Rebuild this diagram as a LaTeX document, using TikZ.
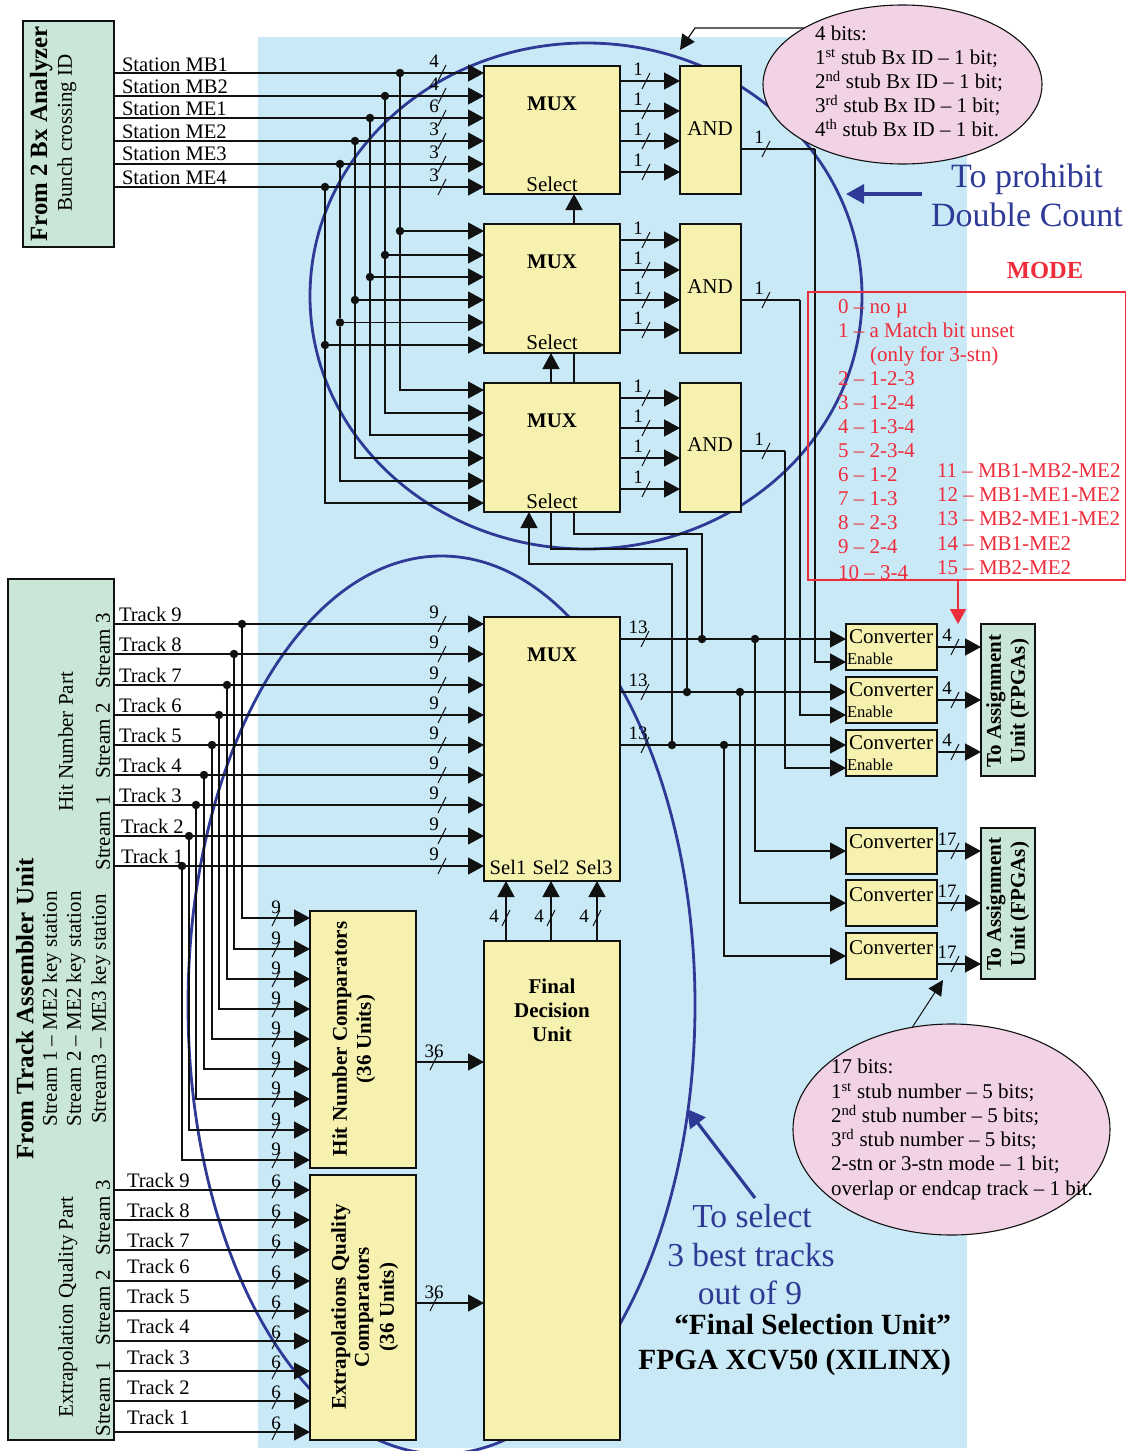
\documentclass[tikz,border=0pt]{standalone}
\usepackage{fontspec}
\setmainfont{Liberation Serif}
\usetikzlibrary{arrows.meta,shapes.geometric,calc}
\definecolor{bgblue}{HTML}{C8E9F5}
\definecolor{boxyel}{HTML}{F6F1AE}
\definecolor{boxgrn}{HTML}{C9E6D6}
\definecolor{boxpnk}{HTML}{F2D3E5}
\definecolor{ringblue}{HTML}{2E3A96}
\definecolor{modered}{HTML}{EE2C3C}
\definecolor{ink}{HTML}{111111}
\newcounter{nn}
\newcommand{\tx}[4][]{\stepcounter{nn}\node[#1] (t\thenn) at (#2,{#3+1}) {#4};}
\newcommand{\bx}[6]{\pgfmathsetmacro{\cxx}{(#2+#4)/2}\pgfmathsetmacro{\cyy}{(#3+#5)/2}\pgfmathsetmacro{\www}{#4-#2}\pgfmathsetmacro{\hhh}{#5-#3}\node[#6,minimum width=\www pt,minimum height=\hhh pt] (#1) at (\cxx,\cyy) {};}
\newcommand{\sh}[2]{\draw[slashmark] ({#1-4},{#2+8}) -- ({#1+4},{#2-8});}
\tikzset{
  tf/.style={font=\fontsize{#1pt}{#1pt}\selectfont,text height=.66*#1pt,text depth=0pt,inner sep=0pt,outer sep=0pt},
  bf/.style={font=\fontsize{#1pt}{#1pt}\selectfont\bfseries,text height=.66*#1pt,text depth=0pt,inner sep=0pt,outer sep=0pt},
  lab/.style={tf=19,yshift=1.5pt},
  ybox/.style={rectangle,draw=ink,fill=boxyel,line width=1.3pt,inner sep=0pt,outer sep=0pt},
  gbox/.style={rectangle,draw=ink,fill=boxgrn,line width=1.3pt,inner sep=0pt,outer sep=0pt},
  pk/.style={ellipse,draw=ink,fill=boxpnk,line width=1.1pt,inner sep=0pt,outer sep=0pt},
  ring/.style={ellipse,draw=ringblue,line width=2.8pt,inner sep=0pt,outer sep=0pt},
  dot/.style={circle,fill=ink,inner sep=0pt,outer sep=0pt,minimum size=8.5pt},
  wire/.style={draw=ink,line width=1.4pt},
  sig/.style={wire,-{Triangle[length=16pt,width=17pt]}},
  slashmark/.style={draw=ink,line width=1pt},
  thinarrow/.style={draw=ink,line width=1.2pt,-{Triangle[length=15pt,width=15pt]}},
  bluearrow/.style={draw=ringblue,line width=3.2pt,-{Triangle[length=18pt,width=19pt]}},
  redarrow/.style={draw=modered,line width=1.3pt,-{Triangle[length=15pt,width=16pt]}},
  bluetext/.style={tf=#1,text=ringblue,yshift=1.5pt},
}
\begin{document}
\begin{tikzpicture}[x=1pt,y=-1pt]
\useasboundingbox (0,0) rectangle (1128,1451);
\fill[white] (0,0) rectangle (1128,1451);
\fill[bgblue] (258,37) rectangle (967,1448);
% rings
\bx{ringa}{310}{43}{862}{549}{ring}
\bx{ringb}{188}{556}{695}{1454}{ring}
% boxes
\bx{gtop}{23}{21}{114}{247}{gbox}
\bx{gbig}{8}{579}{114}{1440}{gbox}
\bx{mux1}{484}{66}{620}{194}{ybox}
\bx{mux2}{484}{224}{620}{353}{ybox}
\bx{mux3}{484}{383}{620}{512}{ybox}
\bx{and1}{680}{66}{741}{194}{ybox}
\bx{and2}{680}{224}{741}{353}{ybox}
\bx{and3}{680}{383}{741}{512}{ybox}
\bx{mux4}{484}{617}{620}{881}{ybox}
\bx{fdu}{484}{941}{620}{1440}{ybox}
\bx{hnc}{310}{911}{416}{1168}{ybox}
\bx{eqc}{310}{1175}{416}{1440}{ybox}
\bx{conv1}{846}{624}{937}{670}{ybox}
\bx{conv2}{846}{677}{937}{723}{ybox}
\bx{conv3}{846}{730}{937}{776}{ybox}
\bx{conv4}{846}{828}{937}{874}{ybox}
\bx{conv5}{846}{880}{937}{926}{ybox}
\bx{conv6}{846}{933}{937}{979}{ybox}
\bx{asga}{981}{624}{1035}{776}{gbox}
\bx{asgb}{981}{828}{1035}{979}{gbox}
% stations
\foreach \i/\xd/\ya/\yb/\yc/\w in {1/400/73/231/390/4,2/385/96/255/413/4,3/370/118/277/435/6,4/355/141/300/458/3,5/340/164/322.5/481/3,6/325/187/345/503/3}{
  \node[dot] (sa\i) at (\xd,\ya) {};
  \node[dot] (sb\i) at (\xd,\yb) {};
  \draw[sig] (gtop.east |- sa\i) -- (mux1.west |- sa\i);
  \draw[wire] (sa\i) -- (sb\i);
  \draw[sig] (sb\i) -- (mux2.west |- sb\i);
  \draw[sig] (sb\i) |- (mux3.west |- 0,\yc);
  \sh{442}{\ya}
  \tx[lab]{434}{\ya-11}{\w}
}
% mux to and
\foreach \m/\a/\ys in {mux1/and1/{81,111,141,172},mux2/and2/{240,270,300,330},mux3/and3/{398,428,458,489}}{
  \foreach \y in \ys {
    \draw[sig] (\m.east |- 0,\y) -- (\a.west |- 0,\y);
    \sh{646}{\y}
    \tx[lab]{638}{\y-11}{1}
  }
}
% main outputs with dots
\node[dot] (ja) at (702,639) {};
\node[dot] (jb) at (687,692) {};
\node[dot] (jc) at (672,745) {};
\node[dot] (ka) at (755,639) {};
\node[dot] (kb) at (740,692) {};
\node[dot] (kc) at (724,745) {};
\foreach \j/\k/\c/\y in {ja/ka/conv1/639,jb/kb/conv2/692,jc/kc/conv3/745}{
  \draw[wire] (mux4.east |- \j) -- (\j) -- (\k);
  \draw[sig] (\k) -- (\c.west |- \k);
  \sh{645}{\y}
  \tx[lab]{638}{\y-11}{13}
}
\draw[sig] (ka) |- (conv4.west |- 0,851);
\draw[sig] (kb) |- (conv5.west |- 0,903);
\draw[sig] (kc) |- (conv6.west |- 0,956);
% select lines
\draw[wire] (574,0 |- mux3.south) -- (574,534) -| (ja);
\draw[wire] (551,0 |- mux3.south) -- (551,549) -| (jb);
\draw[sig] (jc) |- (529,564) -- (529,0 |- mux3.south);
\draw[sig] (574,0 |- mux2.north) -- (574,0 |- mux1.south);
\draw[sig] (551,0 |- mux3.north) -- (551,0 |- mux2.south);
\draw[wire] (574,0 |- mux3.north) -- (574,0 |- mux2.south);
% and outputs to enables
\draw[wire] (and1.east |- 0,149) -- (815,149);
\draw[sig] (815,149) |- (conv1.west |- 0,662);
\draw[wire] (and2.east |- 0,300) -- (800,300);
\draw[sig] (800,300) |- (conv2.west |- 0,715);
\draw[wire] (and3.east |- 0,451) -- (785,451);
\draw[sig] (785,451) |- (conv3.west |- 0,768);
\foreach \y in {149,300,451}{\sh{766}{\y}\tx[lab]{759}{\y-11}{1}}
% converter outputs
\foreach \c/\t/\y/\w/\ly in {conv1/asga/647/4/636,conv2/asga/700/4/689,conv3/asga/752/4/741,conv4/asgb/851/17/840,conv5/asgb/903/17/892,conv6/asgb/964/17/953}{
  \draw[sig] (\c.east |- 0,\y) -- (\t.west |- 0,\y);
  \sh{955}{\y}
  \tx[lab]{947}{\ly}{\w}
}
% hit-number tracks
\foreach \i/\xd/\ya/\yb in {9/242/624/918,8/234/654/949,7/227/685/979,6/219/715/1009,5/212/745/1039,4/204/775/1069,3/196/805/1099,2/189/836/1130,1/182/866/1160}{
  \node[dot] (ta\i) at (\xd,\ya) {};
  \draw[sig] (gbig.east |- ta\i) -- (mux4.west |- ta\i);
  \draw[sig] (ta\i) |- (hnc.west |- 0,\yb);
  \sh{442}{\ya}
  \tx[lab]{434}{\ya-11}{9}
  \sh{276}{\yb}
  \tx[lab]{276}{\yb-10}{9}
}
% quality tracks
\foreach \y in {1190,1220,1250,1281,1311,1341,1371,1401,1432}{
  \draw[sig] (gbig.east |- 0,\y) -- (eqc.west |- 0,\y);
  \sh{276}{\y}
  \tx[lab]{276}{\y-8}{6}
}
% comparators to final
\draw[sig] (hnc.east |- 0,1062) -- (fdu.west |- 0,1062);
\draw[sig] (eqc.east |- 0,1303) -- (fdu.west |- 0,1303);
\sh{434}{1062}\sh{434}{1303}
\tx[lab]{434}{1052}{36}\tx[lab]{434}{1293}{36}
% final to mux
\foreach \x/\lx in {506/494,551/539,597/584}{
  \draw[sig] (\x,0 |- fdu.north) -- (\x,0 |- mux4.south);
  \sh{\x}{918}
  \tx[lab]{\lx}{917}{4}
}
% pink ellipses
\bx{pinka}{763}{5}{1042}{164}{pk}
\bx{pinkb}{793}{1024}{1110}{1235}{pk}
\coordinate (taila) at (804,28);
\coordinate (tipa) at (680,50);
\draw[thinarrow] (taila) -- (695,28) -- (tipa);
\coordinate (tipb) at (943,980);
\draw[thinarrow,line width=1pt] (pinkb.111) -- (tipb);
% blue annotations
\coordinate (bl1a) at (922,194);\coordinate (bl1b) at (846,194);
\draw[bluearrow] (bl1a) -- (bl1b);
\coordinate (bl2a) at (755,1198);\coordinate (bl2b) at (687,1109);
\draw[bluearrow] (bl2a) -- (bl2b);
% mode box
\bx{modebox}{808}{292}{1125.5}{580}{rectangle,draw=modered,line width=1.3pt,inner sep=0pt,outer sep=0pt}
\draw[redarrow] (958,0 |- modebox.south) -- (958,0 |- conv1.north);
% ---- texts ----
\tx[bf=24.8,rotate=90]{39}{133}{From 2 Bx Analyzer}
\tx[tf=21,rotate=90]{65}{132}{Bunch crossing ID}
\foreach \t/\y in {MB1/64,MB2/86,ME1/108,ME2/131,ME3/153,ME4/177}{\tx[tf=20.6,anchor=west]{122}{\y}{Station \t}}
\foreach \y in {103,261,420}{\tx[bf=20.8]{552}{\y}{MUX}}
\foreach \y in {184,342,501}{\tx[tf=21]{552}{\y}{Select}}
\foreach \y in {128,286,444}{\tx[tf=21]{710}{\y}{AND}}
\tx[bf=20.8]{552}{654}{MUX}
\tx[tf=20.6]{508}{867}{Sel1}\tx[tf=20.6]{551}{867}{Sel2}\tx[tf=20.6]{594}{867}{Sel3}
\tx[bf=21]{552}{986}{Final}\tx[bf=21]{552}{1010}{Decision}\tx[bf=21]{552}{1034}{Unit}
\tx[bf=21,rotate=90]{340}{1038}{Hit Number Comparators}
\tx[bf=21,rotate=90]{364}{1038}{(36 Units)}
\tx[bf=21,rotate=90]{339}{1306}{Extrapolations Quality}
\tx[bf=21,rotate=90]{362}{1306}{Comparators}
\tx[bf=21,rotate=90]{387}{1306}{(36 Units)}
\tx[bf=25,rotate=90]{25}{1008}{From Track Assembler Unit}
\tx[tf=21,rotate=90]{50}{1008}{Stream 1 – ME2 key station}
\tx[tf=21,rotate=90]{74}{1008}{Stream 2 – ME2 key station}
\tx[tf=21,rotate=90]{99}{1008}{Stream3 – ME3 key station}
\tx[tf=21,rotate=90]{66}{741}{Hit Number Part}
\tx[tf=21,rotate=90]{66}{1306}{Extrapolation Quality Part}
\foreach \s/\y in {3/650,2/740,1/832,3/1217,2/1307,1/1398}{\tx[tf=21,rotate=90]{103}{\y}{Stream \s}}
\foreach \n/\x/\y in {9/119/614,8/119/644,7/119/675,6/119/705,5/119/735,4/119/765,3/119/795,2/121/826,1/121/856,9/127/1180,8/127/1210,7/127/1240,6/127/1266,5/127/1296,4/127/1326,3/127/1357,2/127/1387,1/127/1417}{\tx[tf=20.6,anchor=west]{\x}{\y}{Track \n}}
\foreach \y in {636,689,742,841,894,947}{\tx[tf=21]{891}{\y}{Converter}}
\foreach \y in {658,711,764}{\tx[tf=16.6,anchor=west]{847}{\y}{Enable}}
\foreach \y in {700,903}{
  \tx[bf=21,rotate=90]{994}{\y}{To Assignment}
  \tx[bf=21,rotate=90]{1018}{\y}{Unit (FPGAs)}
}
% pink texts
\tx[tf=21,anchor=west]{815}{32.5}{4 bits:}
\tx[tf=21,anchor=west]{815}{57}{1\textsuperscript{st} stub Bx ID – 1 bit;}
\tx[tf=21,anchor=west]{815}{81}{2\textsuperscript{nd} stub Bx ID – 1 bit;}
\tx[tf=21,anchor=west]{815}{105}{3\textsuperscript{rd} stub Bx ID – 1 bit;}
\tx[tf=21,anchor=west]{815}{129}{4\textsuperscript{th} stub Bx ID – 1 bit.}
\tx[tf=21,anchor=west]{831}{1066}{17 bits:}
\tx[tf=21,anchor=west]{831}{1091}{1\textsuperscript{st} stub number – 5 bits;}
\tx[tf=21,anchor=west]{831}{1115}{2\textsuperscript{nd} stub number – 5 bits;}
\tx[tf=21,anchor=west]{831}{1139}{3\textsuperscript{rd} stub number – 5 bits;}
\tx[tf=21,anchor=west]{831}{1163}{2-stn or 3-stn mode – 1 bit;}
\tx[tf=21,anchor=west]{831}{1188}{overlap or endcap track – 1 bit.}
% blue texts
\tx[bluetext=34]{1027}{177}{To prohibit}
\tx[bluetext=34]{1027}{216}{Double Count}
\tx[bluetext=33.5]{752}{1217}{To select}
\tx[bluetext=33.5]{751}{1256}{3 best tracks}
\tx[bluetext=33.5]{750}{1294}{out of 9}
\tx[bf=29.3,anchor=east]{951}{1324}{“Final Selection Unit”}
\tx[bf=29.3,anchor=east]{951}{1359}{FPGA XCV50 (XILINX)}
% mode texts
\tx[bf=24.5,text=modered]{1045}{269}{MODE}
\foreach \l/\y in {{0 – no µ}/306,{1 – a Match bit unset}/330,{2 – 1-2-3}/378,{3 – 1-2-4}/402,{4 – 1-3-4}/426,{5 – 2-3-4}/450,{6 – 1-2}/474,{7 – 1-3}/498,{8 – 2-3}/522,{9 – 2-4}/546,{10 – 3-4}/572}{\tx[tf=21,text=modered,anchor=west]{838}{\y}{\l}}
\tx[tf=21,text=modered,anchor=west]{870}{354}{(only for 3-stn)}
\foreach \l/\y in {{11 – MB1-MB2-ME2}/470,{12 – MB1-ME1-ME2}/494,{13 – MB2-ME1-ME2}/518,{14 – MB1-ME2}/543,{15 – MB2-ME2}/567}{\tx[tf=21,text=modered,anchor=west]{937}{\y}{\l}}
\end{tikzpicture}
\end{document}
